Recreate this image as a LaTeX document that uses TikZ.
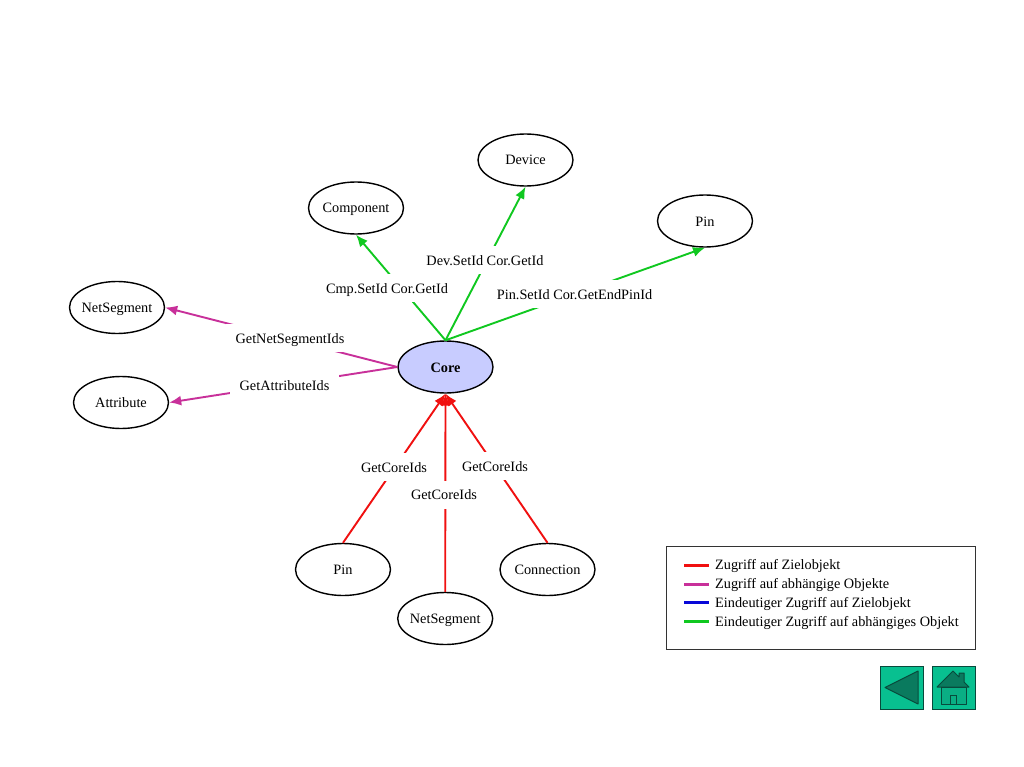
\documentclass[tikz,border=0pt]{standalone}
\usepackage{fontspec}
\setmainfont{Liberation Serif}
\usetikzlibrary{shapes.geometric,arrows.meta}
\definecolor{redE}{HTML}{F01010}
\definecolor{pinkE}{HTML}{C8309A}
\definecolor{blueE}{HTML}{0808D8}
\definecolor{greenE}{HTML}{10C820}
\definecolor{coreF}{HTML}{C8CCFF}
\definecolor{btnF}{HTML}{08C090}
\definecolor{btnM}{HTML}{0AAE84}
\definecolor{btnD}{HTML}{0A7A5E}
\definecolor{btnL}{HTML}{084A3C}
\tikzset{
  obj/.style={draw=black,line width=1.4pt,ellipse,minimum width=95pt,minimum height=52pt,inner xsep=-10pt,inner ysep=0pt,text height=10pt,text depth=0pt,font=\fontsize{14.3}{16}\selectfont},
  lab/.style={fill=white,inner xsep=10pt,inner ysep=0pt,minimum height=28pt,text height=10pt,text depth=0pt,font=\fontsize{14.3}{16}\selectfont},
  edgeline/.style={line width=1.9pt},
  tip/.style={-{Latex[length=12pt,width=10pt]}},
  legtext/.style={anchor=base west,inner sep=0pt,font=\fontsize{14.3}{16}\selectfont},
  legline/.style={line width=3pt},
  btn/.style={draw=btnL,fill=btnF,line width=1pt},
  ico/.style={draw=btnL,fill=btnD,line width=1pt,line join=round}
}
\begin{document}
\begin{tikzpicture}[x=1pt,y=-1pt]
\useasboundingbox (0,0) rectangle (1024,767);
\fill[white] (0,0) rectangle (1024,767);
\node[obj,fill=coreF,font=\fontsize{14.3}{16}\selectfont\bfseries] (core) at (445.5,367) {Core};
\node[obj] (comp) at (356,208) {Component};
\node[obj] (dev) at (525.5,160) {Device};
\node[obj] (pinT) at (705,221) {Pin};
\node[obj] (nsT) at (117,307.5) {NetSegment};
\node[obj] (attr) at (121,402.5) {Attribute};
\node[obj] (pinB) at (343,569.5) {Pin};
\node[obj] (nsB) at (445.2,618.5) {NetSegment};
\node[obj] (conn) at (547.5,569.5) {Connection};
\draw[edgeline,greenE,tip] (core.north) -- (comp.south);
\draw[edgeline,greenE,tip] (core.north) -- (dev.south);
\draw[edgeline,greenE,tip] (core.north) -- (pinT.south);
\draw[edgeline,pinkE,tip] (core.west) -- (nsT.east);
\draw[edgeline,pinkE,tip] (core.west) -- (attr.east);
\draw[edgeline,redE,tip] (pinB.north) -- (core.south);
\draw[edgeline,redE,tip] (nsB.north) -- (core.south);
\draw[edgeline,redE,tip] (conn.north) -- (core.south);
\node[lab] (l1) at (387,288) {Cmp.SetId Cor.GetId};
\node[lab] (l2) at (485,260) {Dev.SetId Cor.GetId};
\node[lab] (l3) at (574.5,294) {Pin.SetId Cor.GetEndPinId};
\node[lab] (l4) at (290,338) {GetNetSegmentIds};
\node[lab] (l5) at (284.5,385) {GetAttributeIds};
\node[lab] (l6) at (394,467) {GetCoreIds};
\node[lab] (l7) at (444,494.5) {GetCoreIds};
\node[lab] (l8) at (495,466) {GetCoreIds};
\node[draw=black!80,line width=1pt,minimum width=309pt,minimum height=103pt,inner sep=0pt] (legend) at (820.5,597.5) {};
\coordinate (a1) at (684,565); \coordinate (b1) at (709,565);
\coordinate (a2) at (684,584); \coordinate (b2) at (709,584);
\coordinate (a3) at (684,602.5); \coordinate (b3) at (709,602.5);
\coordinate (a4) at (684,621.5); \coordinate (b4) at (709,621.5);
\draw[legline,redE] (a1) -- (b1);
\draw[legline,pinkE] (a2) -- (b2);
\draw[legline,blueE] (a3) -- (b3);
\draw[legline,greenE] (a4) -- (b4);
\node[legtext] (t1) at (715,569) {Zugriff auf Zielobjekt};
\node[legtext] (t2) at (715,588) {Zugriff auf abhängige Objekte};
\node[legtext] (t3) at (715,607) {Eindeutiger Zugriff auf Zielobjekt};
\node[legtext] (t4) at (715,626) {Eindeutiger Zugriff auf abhängiges Objekt};
% buttons
\draw[btn] (880,666) rectangle (923,709);
\draw[ico] (918,671) -- (918,704) -- (885,687.5) -- cycle;
\draw[btn] (932,666) rectangle (975,709);
\draw[ico] (959,677) -- (959,673) -- (964,673) -- (964,682) -- (969,687) -- (937,687) -- (953,671) -- cycle;
\draw[ico,fill=btnM] (941,687) rectangle (966,704);
\draw[btnL,line width=1pt] (950,704) -- (950,695) -- (956,695) -- (956,704);
\end{tikzpicture}
\end{document}
